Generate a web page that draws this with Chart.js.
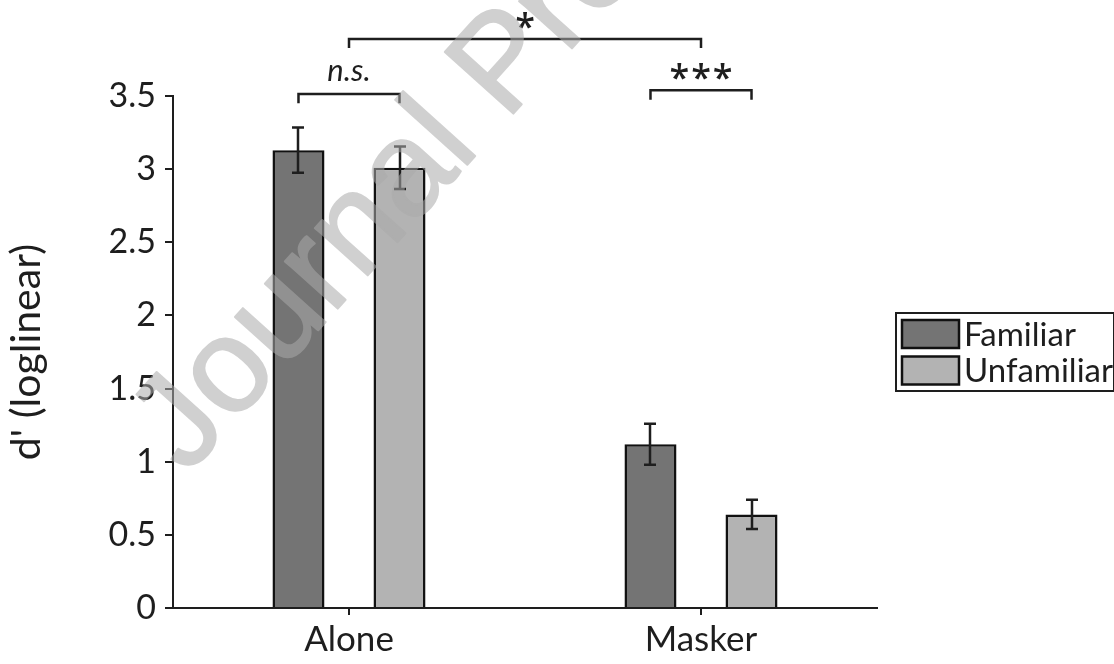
<!DOCTYPE html>
<html>
<head>
<meta charset="utf-8">
<script src="https://cdn.jsdelivr.net/npm/chart.js@4/dist/chart.umd.min.js"></script>
<style>
  html, body { margin: 0; padding: 0; background: #ffffff; }
  #wrap { width: 1114px; height: 664px; position: relative; }
  canvas { display: block; }
</style>
</head>
<body>
<div id="wrap"><canvas id="chart" width="1114" height="664"></canvas></div>
<script>
// Conditions on the x axis
const categories = ['Alone', 'Masker'];
// Mean sensitivity d' per condition
const familiarMeans = [3.13, 1.12];
const unfamiliarMeans = [3.01, 0.64];
// Standard error of each mean
const familiarErrors = [0.155, 0.14];
const unfamiliarErrors = [0.145, 0.10];
// Y axis tick labels
const yTickLabels = ['0', '0.5', '1', '1.5', '2', '2.5', '3', '3.5'];
const seriesNames = ['Familiar', 'Unfamiliar'];

const INK = '#1e1e1e';
const FONT = 'Lato, "Open Sans", sans-serif';

// Significance brackets between bars / conditions
const brackets = [
  { text: 'n.s.', italic: true, from: { ds: 0, i: 0 }, to: { ds: 1, i: 0 }, level: 3.513, drop: 0.062, gap: 13, size: 31 },
  { text: '***', stars: true, from: { ds: 0, i: 1 }, to: { ds: 1, i: 1 }, level: 3.54, drop: 0.065, gap: 10, size: 36, pitch: 21.7 },
  { text: '*', stars: true, from: { cat: 0 }, to: { cat: 1 }, level: 3.89, drop: 0.062, gap: 10, size: 36, pitch: 21.7 }
];

const errorBars = {
  id: 'errorBars',
  afterDatasetsDraw(chart) {
    const ctx = chart.ctx;
    const y = chart.scales.y;
    const errs = [familiarErrors, unfamiliarErrors];
    ctx.save();
    ctx.strokeStyle = INK;
    ctx.lineWidth = 2.5;
    chart.data.datasets.forEach((ds, d) => {
      chart.getDatasetMeta(d).data.forEach((bar, i) => {
        const v = ds.data[i], e = errs[d][i];
        const hi = y.getPixelForValue(v + e), lo = y.getPixelForValue(v - e);
        const cx = Math.round(bar.x), cap = 6;
        ctx.beginPath();
        ctx.moveTo(cx, hi); ctx.lineTo(cx, lo);
        ctx.moveTo(cx - cap, hi); ctx.lineTo(cx + cap, hi);
        ctx.moveTo(cx - cap, lo); ctx.lineTo(cx + cap, lo);
        ctx.stroke();
      });
    });
    ctx.restore();
  }
};

// Semi-transparent diagonal stamp, rendered once on its own layer
function drawStamp(ctx, w, h) {
  const layer = document.createElement('canvas');
  layer.width = w; layer.height = h;
  const g = layer.getContext('2d');
  g.translate(187, 476);
  g.rotate(-48 * Math.PI / 180);
  g.font = '134px "Liberation Sans", Arial, sans-serif';
  g.fillStyle = '#aaaaaa';
  g.strokeStyle = '#aaaaaa';
  g.lineWidth = 2;
  g.lineJoin = 'round';
  g.textBaseline = 'alphabetic';
  g.fillText('Journal Pre-proof', 0, 0);
  g.strokeText('Journal Pre-proof', 0, 0);
  ctx.save();
  ctx.setTransform(1, 0, 0, 1, 0, 0);
  ctx.globalAlpha = 0.55;
  ctx.drawImage(layer, 0, 0);
  ctx.restore();
}

const annotations = {
  id: 'annotations',
  afterDraw(chart) {
    const ctx = chart.ctx;
    const xs = chart.scales.x, ys = chart.scales.y;
    const px = (ref) => ref.cat !== undefined ? xs.getPixelForValue(ref.cat)
                                               : chart.getDatasetMeta(ref.ds).data[ref.i].x;
    ctx.save();
    // brackets with their significance marks
    brackets.forEach(b => {
      const x1 = px(b.from), x2 = px(b.to);
      const top = ys.getPixelForValue(b.level);
      const foot = ys.getPixelForValue(b.level - b.drop);
      ctx.strokeStyle = INK;
      ctx.lineWidth = 2.5;
      ctx.beginPath();
      ctx.moveTo(x1, foot); ctx.lineTo(x1, top); ctx.lineTo(x2, top); ctx.lineTo(x2, foot);
      ctx.stroke();
      ctx.fillStyle = INK;
      ctx.textAlign = 'center';
      ctx.textBaseline = 'alphabetic';
      const mid = (x1 + x2) / 2;
      if (b.stars) {
        ctx.font = '600 ' + b.size + 'px "Open Sans", sans-serif';
        const chars = b.text.split('');
        chars.forEach((ch, k) => {
          const m = ctx.measureText(ch);
          const cx = mid + (k - (chars.length - 1) / 2) * b.pitch;
          // put the glyph's lower edge b.gap pixels above the bracket
          ctx.fillText(ch, cx, top - b.gap - m.actualBoundingBoxDescent);
        });
      } else {
        ctx.font = (b.italic ? 'italic ' : '') + b.size + 'px ' + FONT;
        const m = ctx.measureText(b.text);
        ctx.fillText(b.text, mid, top - b.gap - m.actualBoundingBoxDescent);
      }
    });

    // legend
    const lx = 896, ly = 313, lw = 218, lh = 78;
    ctx.strokeStyle = INK;
    ctx.lineWidth = 2;
    ctx.strokeRect(lx, ly, lw, lh);
    chart.data.datasets.forEach((ds, d) => {
      const sy = 320 + d * 36.5;
      ctx.fillStyle = ds.backgroundColor;
      ctx.fillRect(902, sy, 57, 28);
      ctx.lineWidth = 2.5;
      ctx.strokeStyle = '#111';
      ctx.strokeRect(902, sy, 57, 28);
      ctx.fillStyle = INK;
      ctx.font = '33px ' + FONT;
      ctx.textAlign = 'left';
      ctx.textBaseline = 'middle';
      ctx.fillText(seriesNames[d], 964, sy + 15);
    });
    ctx.restore();

    drawStamp(ctx, chart.width, chart.height);
  }
};

new Chart(document.getElementById('chart'), {
  type: 'bar',
  data: {
    labels: categories,
    datasets: [
      { label: seriesNames[0], data: familiarMeans, backgroundColor: '#747474', borderColor: '#111', borderWidth: 2.5, borderSkipped: 'start' },
      { label: seriesNames[1], data: unfamiliarMeans, backgroundColor: '#b3b3b3', borderColor: '#111', borderWidth: 2.5, borderSkipped: 'start' }
    ]
  },
  options: {
    responsive: false,
    animation: false,
    devicePixelRatio: 1,
    categoryPercentage: 0.574,
    barPercentage: 0.515,
    layout: { padding: { top: 96, right: 237, bottom: 0, left: 0 } },
    plugins: { legend: { display: false }, tooltip: { enabled: false } },
    scales: {
      x: {
        offset: true,
        grid: { offset: false, drawOnChartArea: false, drawTicks: true, tickLength: 7, color: INK, lineWidth: 2 },
        border: { color: INK, width: 2 },
        ticks: { color: INK, font: { family: FONT, size: 35 }, padding: 4 },
        afterFit(scale) { scale.height = 56; }
      },
      y: {
        min: 0, max: 3.5,
        grid: { drawOnChartArea: false, drawTicks: true, tickLength: 8, color: INK, lineWidth: 2 },
        border: { color: INK, width: 2 },
        ticks: {
          stepSize: 0.5, color: INK, font: { family: FONT, size: 34 }, padding: 9,
          callback: (v, i) => yTickLabels[i]
        },
        title: { display: true, text: "d' (loglinear)", color: INK, font: { family: FONT, size: 41 }, padding: { top: 2, bottom: 0 } },
        afterFit(scale) { scale.width = 173; }
      }
    }
  },
  plugins: [errorBars, annotations]
});
</script>
</body>
</html>
